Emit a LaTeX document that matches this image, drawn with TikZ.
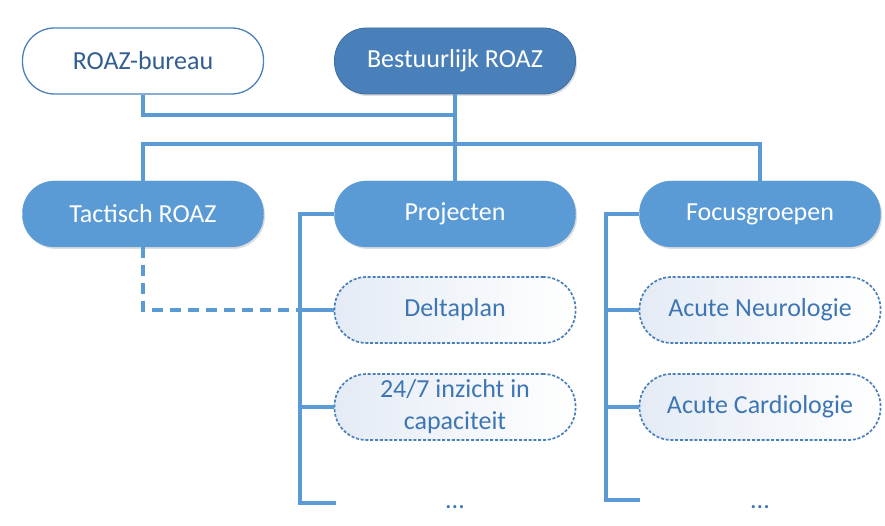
\documentclass[tikz,border=0pt]{standalone}
\usepackage{fontspec}
\setmainfont{Carlito}
\usetikzlibrary{shadows,calc}
\definecolor{lineblue}{RGB}{91,155,213}
\definecolor{darkblue}{RGB}{74,128,186}
\definecolor{midblue}{RGB}{91,155,213}
\definecolor{txtblue}{RGB}{62,118,180}
\definecolor{tint}{RGB}{228,235,245}
\tikzset{
  x=1pt, y=-1pt,
  base/.style={rectangle, rounded corners=32pt, minimum width=241pt, minimum height=66pt,
    inner sep=0pt, align=center, font=\fontsize{26}{32}\selectfont},
  topbox/.style={base, fill=darkblue, draw=darkblue!85!black, line width=0.8pt, text=white,
    drop shadow={shadow xshift=1.5pt, shadow yshift=-2pt, opacity=0.25}},
  whitebox/.style={base, fill=white, draw=darkblue, line width=1.3pt, text=txtblue!80!black},
  midbox/.style={base, fill=midblue, draw=midblue, text=white,
    drop shadow={shadow xshift=1.5pt, shadow yshift=-2pt, opacity=0.25}},
  subbox/.style={base, left color=tint, right color=white, draw=darkblue, line width=1.7pt,
    dash pattern=on 3pt off 1.8pt, text=txtblue},
  conn/.style={draw=lineblue, line width=3.6pt},
  dconn/.style={draw=lineblue, line width=3.6pt, dash pattern=on 11pt off 7pt},
  dots/.style={text=txtblue, font=\fontsize{26}{32}\selectfont, inner sep=0pt}
}
\begin{document}
\begin{tikzpicture}
\useasboundingbox (0,0) rectangle (885,526);
\fill[white] (0,0) rectangle (885,526);
\coordinate (j1) at (455,115);
\coordinate (hL) at (143,144);
\coordinate (hR) at (760,144);
\coordinate (pv) at (300,214);
\coordinate (pd) at (300,310);
\coordinate (pc) at (300,407);
\coordinate (pe) at (300,503);
\coordinate (fv) at (606,214);
\coordinate (fn) at (606,310);
\coordinate (fc) at (606,407);
\coordinate (fe) at (606,500);
\coordinate (pee) at (336,503);
\coordinate (fee) at (640,500);

\node[whitebox] (bureau) at (143,61) {ROAZ-bureau};
\node[topbox] (best) at (455,61) {Bestuurlijk ROAZ};
\node[midbox] (tact) at (143,214) {Tactisch ROAZ};
\node[midbox] (proj) at (455,214) {Projecten};
\node[midbox] (focus) at (760,214) {Focusgroepen};
\node[subbox] (delta) at (455,310) {Deltaplan};
\node[subbox] (cap) at (455,407) {24/7 inzicht in\\capaciteit};
\node[subbox] (neuro) at (760,310) {Acute Neurologie};
\node[subbox] (cardio) at (760,407) {Acute Cardiologie};
\node[dots] (pdots) at (455,507) {...};
\node[dots] (fdots) at (760,507) {...};

\draw[conn] (bureau.south) |- (j1);
\draw[conn] (best.south) -- (proj.north);
\draw[conn] (tact.north) -- (hL) -- (hR) -- (focus.north);
\draw[conn] (proj.west) -- (pv) -- (pe) -- (pee);
\draw[conn] (pd) -- (delta.west);
\draw[conn] (pc) -- (cap.west);
\draw[conn] (focus.west) -- (fv) -- (fe) -- (fee);
\draw[conn] (fn) -- (neuro.west);
\draw[conn] (fc) -- (cardio.west);
\draw[dconn] (tact.south) |- (pd);
\end{tikzpicture}
\end{document}
